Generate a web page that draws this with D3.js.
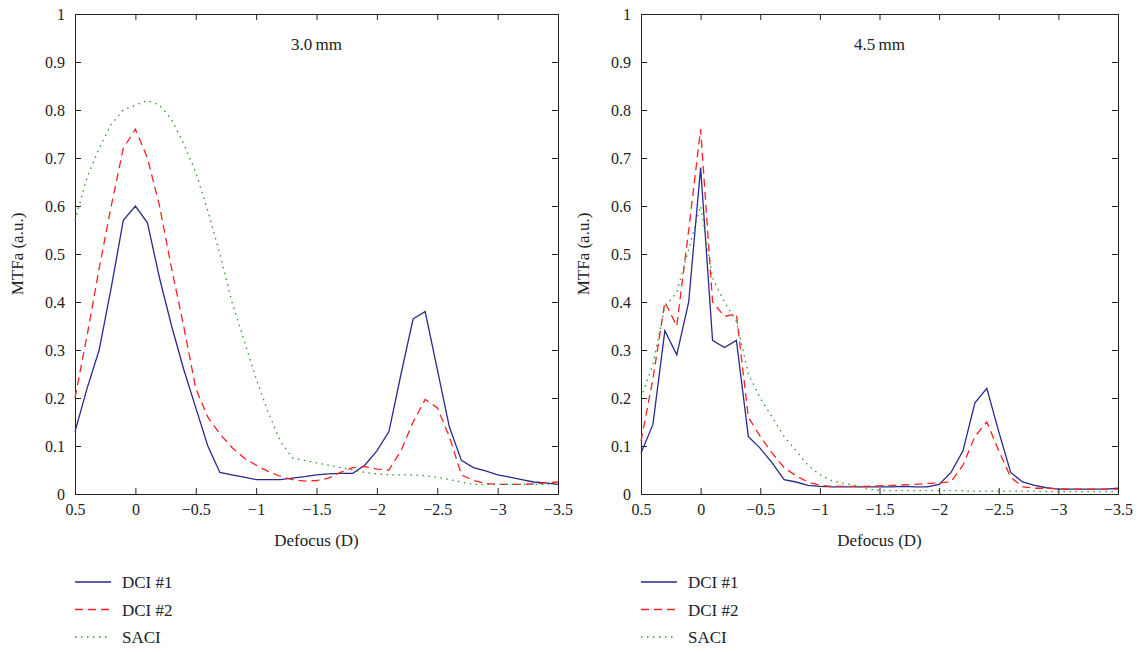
<!DOCTYPE html>
<html lang="en">
<head>
<meta charset="utf-8">
<title>MTFa vs defocus</title>
<script src="https://cdn.jsdelivr.net/npm/d3@7/dist/d3.min.js"></script>
<style>
  body { margin:0; background:#fff; }
  text { font-family:"Liberation Serif", "DejaVu Serif", serif; fill:#222; }
</style>
</head>
<body>
<svg id="chart" width="1148" height="652"></svg>
<script>
// defocus values, 0.5 to -3.5 in 0.1 steps
var defocus = d3.range(41).map(function(i){ return +(0.5 - i*0.1).toFixed(1); });

var dci1_30 = [0.13,0.22,0.30,0.43,0.57,0.60,0.565,0.45,0.35,0.26,0.18,0.10,0.045,0.04,0.035,0.03,0.03,0.03,0.033,0.036,0.04,0.042,0.043,0.043,0.06,0.09,0.13,0.25,0.365,0.38,0.26,0.14,0.07,0.055,0.048,0.04,0.035,0.03,0.025,0.023,0.02];
var dci2_30 = [0.2,0.33,0.47,0.6,0.72,0.76,0.7,0.6,0.47,0.35,0.22,0.16,0.125,0.097,0.075,0.06,0.047,0.037,0.03,0.027,0.028,0.033,0.045,0.055,0.057,0.052,0.05,0.09,0.15,0.197,0.18,0.12,0.04,0.028,0.022,0.02,0.02,0.02,0.021,0.023,0.025];
var saci_30 = [0.57,0.66,0.72,0.77,0.80,0.81,0.82,0.81,0.78,0.73,0.67,0.59,0.5,0.4,0.32,0.24,0.17,0.11,0.075,0.07,0.065,0.06,0.055,0.05,0.045,0.042,0.04,0.04,0.04,0.038,0.035,0.03,0.025,0.02,0.02,0.02,0.02,0.02,0.02,0.02,0.02];

var dci1_45 = [0.085,0.145,0.34,0.29,0.40,0.68,0.32,0.305,0.32,0.12,0.095,0.065,0.03,0.025,0.018,0.016,0.015,0.015,0.015,0.015,0.015,0.015,0.016,0.015,0.015,0.02,0.045,0.09,0.19,0.22,0.13,0.045,0.025,0.018,0.013,0.01,0.01,0.01,0.01,0.01,0.012];
var dci2_45 = [0.11,0.24,0.40,0.35,0.55,0.76,0.40,0.37,0.375,0.16,0.12,0.085,0.055,0.038,0.025,0.018,0.016,0.016,0.016,0.016,0.017,0.018,0.019,0.02,0.022,0.023,0.026,0.06,0.12,0.15,0.09,0.035,0.015,0.012,0.012,0.011,0.01,0.01,0.01,0.01,0.01];
var saci_45 = [0.2,0.27,0.39,0.42,0.51,0.60,0.45,0.40,0.36,0.25,0.2,0.16,0.12,0.09,0.06,0.04,0.028,0.022,0.018,0.01,0.008,0.007,0.007,0.007,0.007,0.007,0.007,0.007,0.006,0.006,0.006,0.006,0.006,0.006,0.005,0.005,0.005,0.005,0.005,0.005,0.005];

var xTicks = [0.5,0,-0.5,-1,-1.5,-2,-2.5,-3,-3.5];
var yTicks = d3.range(11).map(function(i){ return +(i/10).toFixed(1); });
var seriesNames = ["DCI #1","DCI #2","SACI"];
var seriesColors = ["#2a2a8c","#ff2020","#2a9a2a"];
var seriesDash = [null,"8,5","1.5,4.5"];

var panels = [
  { label:"3.0\u2009mm", left:75, right:558, data:[dci1_30,dci2_30,saci_30] },
  { label:"4.5\u2009mm", left:641, right:1118, data:[dci1_45,dci2_45,saci_45] }
];

var svg = d3.select("#chart");
var plotTop = 14, plotBottom = 494;

function fmt(d){ return d === 0 ? "0" : String(d).replace("-", "\u2212"); }

panels.forEach(function(p){
  var x = d3.scaleLinear().domain([0.5,-3.5]).range([p.left,p.right]);
  var y = d3.scaleLinear().domain([0,1]).range([plotBottom,plotTop]);
  var g = svg.append("g");

  g.append("g").attr("transform","translate(0,"+plotBottom+")")
    .call(d3.axisBottom(x).tickValues(xTicks).tickSize(-6).tickPadding(10).tickFormat(fmt));
  g.append("g").attr("transform","translate(0,"+plotTop+")")
    .call(d3.axisTop(x).tickValues(xTicks).tickSize(-6).tickFormat(""));
  g.append("g").attr("transform","translate("+p.left+",0)")
    .call(d3.axisLeft(y).tickValues(yTicks).tickSize(-6).tickPadding(10).tickFormat(fmt));
  g.append("g").attr("transform","translate("+p.right+",0)")
    .call(d3.axisRight(y).tickValues(yTicks).tickSize(-6).tickFormat(""));
  g.selectAll(".domain").attr("stroke","#222");
  g.selectAll(".tick line").attr("stroke","#222");
  g.selectAll(".tick text").style("font-size","16px").style("font-family","Liberation Serif").attr("fill","#222");

  var line = d3.line().x(function(d,i){ return x(defocus[i]); }).y(function(d){ return y(d); });
  p.data.forEach(function(s,k){
    g.append("path").datum(s).attr("d",line).attr("fill","none")
      .attr("stroke",seriesColors[k]).attr("stroke-width",1.3)
      .attr("stroke-dasharray",seriesDash[k]);
  });

  g.append("text").attr("x",(p.left+p.right)/2).attr("y",50)
    .attr("text-anchor","middle").style("font-size","17px").text(p.label);
  g.append("text").attr("x",(p.left+p.right)/2).attr("y",546)
    .attr("text-anchor","middle").style("font-size","17px").text("Defocus (D)");
  g.append("text").attr("transform","translate("+(p.left-52)+","+((plotTop+plotBottom)/2)+") rotate(-90)")
    .attr("text-anchor","middle").style("font-size","17px").text("MTFa (a.u.)");

  seriesNames.forEach(function(n,k){
    var ly = 582 + k*27.5;
    g.append("line").attr("x1",p.left).attr("x2",p.left+36).attr("y1",ly).attr("y2",ly)
      .attr("stroke",seriesColors[k]).attr("stroke-width",1.3).attr("stroke-dasharray",seriesDash[k]);
    g.append("text").attr("x",p.left+47).attr("y",ly+6).style("font-size","17px").text(n);
  });
});
</script>
</body>
</html>
